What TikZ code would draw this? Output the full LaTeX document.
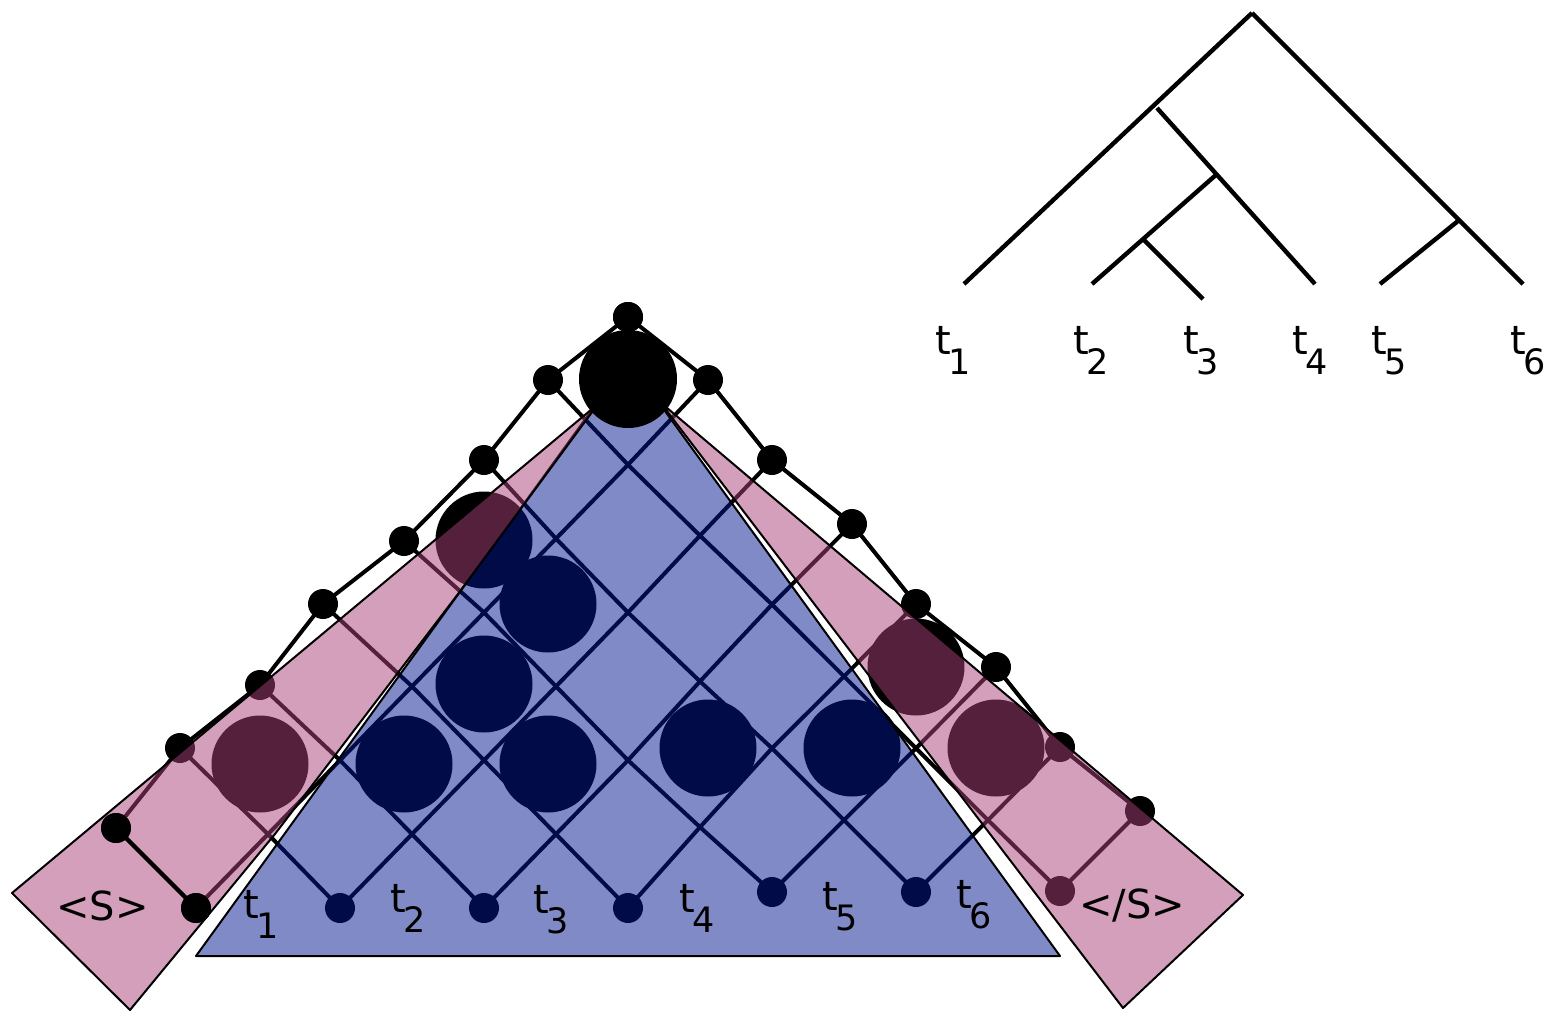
\documentclass[tikz,border=0pt]{standalone}
\usepackage{fontspec}
\setmainfont{DejaVu Sans}
\definecolor{bluefill}{RGB}{0,22,144}
\definecolor{pinkfill}{RGB}{170,64,118}
\tikzset{
  latt/.style={line width=2pt},
  dotc/.style={circle, fill=black, inner sep=0pt, minimum size=15pt},
  bigc/.style={circle, fill=black, inner sep=0pt, minimum size=48.5pt},
  bluetri/.style={fill=bluefill, fill opacity=0.5, draw=black, line width=1pt, line join=round},
  pinkband/.style={fill=pinkfill, fill opacity=0.5, draw=black, line width=1pt, line join=round},
  lbl/.style={inner sep=0pt, anchor=base west, font=\fontsize{20pt}{23pt}\selectfont},
  treeline/.style={line width=2.2pt},
}
\newcommand\tsub[1]{t\kern-1.5pt\raisebox{-10pt}{\fontsize{17.5pt}{20pt}\selectfont #1}}
\begin{document}
\begin{tikzpicture}[x=0.5pt,y=-0.5pt]
\useasboundingbox (0,0) rectangle (1548,1013);
% ---------- lattice node positions ----------
\foreach \i in {-1,...,7}{\foreach \j in {\i,...,7}{
  \pgfmathsetmacro\xx{196+72*(\i+\j)}
  \pgfmathsetmacro\yb{908-16*min(1,max(0,(\xx-628)/144))}
  \pgfmathsetmacro\yy{\yb+(317-\yb)*(\j-\i)/8}
  \coordinate (p\i-\j) at (\xx,\yy);
}}
% left chain
\coordinate (p-1-0) at (116,828);
\coordinate (p-1-1) at (180,748);
\coordinate (p-1-2) at (260,685);
\coordinate (p-1-3) at (323,604);
\coordinate (p-1-4) at (404,541);
\coordinate (p-1-5) at (484,460);
\coordinate (p-1-6) at (548,380);
\coordinate (p-1-7) at (628,317);
% right chain
\coordinate (p0-7) at (708,380);
\coordinate (p1-7) at (772,460);
\coordinate (p2-7) at (852,524);
\coordinate (p3-7) at (916,604);
\coordinate (p4-7) at (996,667);
\coordinate (p5-7) at (1060,747);
\coordinate (p6-7) at (1140,811);
% bottom
\coordinate (p0-0) at (196,908);
\coordinate (p1-1) at (340,908);
\coordinate (p2-2) at (484,908);
\coordinate (p3-3) at (628,908);
\coordinate (p4-4) at (772,892);
\coordinate (p5-5) at (916,892);
\coordinate (p6-6) at (1060,891);
% ---------- lattice lines ----------
\foreach \i in {0,...,6}{\foreach \j in {\i,...,7}{
  \pgfmathtruncatemacro\im{\i-1}
  \draw[latt] (p\i-\j) -- (p\im-\j);
}}
\foreach \i in {0,...,6}{\foreach \j in {\i,...,6}{
  \pgfmathtruncatemacro\jp{\j+1}
  \draw[latt] (p\i-\j) -- (p\i-\jp);
}}
\foreach \j in {0,...,6}{
  \pgfmathtruncatemacro\jp{\j+1}
  \draw[latt] (p-1-\j) -- (p-1-\jp);
}
% ---------- dots ----------
\foreach \k in {0,...,7}{\node[dotc] (dl\k) at (p-1-\k) {};}
\foreach \k in {0,...,6}{\node[dotc] (dr\k) at (p\k-7) {};}
\foreach \k in {0,...,6}{\node[dotc] (db\k) at (p\k-\k) {};}
% ---------- big circles ----------
\node[bigc] (c1) at (484,540) {};
\node[bigc] (c2) at (548,604) {};
\node[bigc] (c3) at (484,684) {};
\node[bigc] (c4) at (404,764) {};
\node[bigc] (c5) at (548,764) {};
\node[bigc] (c6) at (708,748) {};
\node[bigc] (c7) at (852,748) {};
\node[bigc] (c8) at (260,764) {};
\node[bigc] (c9) at (916,667) {};
\node[bigc] (c10) at (996,748) {};
% ---------- translucent overlays ----------
\filldraw[bluetri] (196,956) -- (1060,956) -- (628,360) -- cycle;
\filldraw[pinkband] (12,893) -- (130,1010) -- (275,834) -- (458,594) -- (598,404) -- cycle;
\filldraw[pinkband] (660,402) -- (1243,895) -- (1123,1008) -- cycle;
% ---------- top layer ----------
\draw[latt] (p0-0) -- (p-1-0);
\node[dotc] (tb0) at (p0-0) {};
\node[dotc] (tl0) at (p-1-0) {};
\node[dotc] (top) at (p-1-7) {};
\node[bigc, minimum size=49pt] (c0) at (628,379) {};
% ---------- labels ----------
\node[lbl] (s0) at (56,920) {<S>};
\node[lbl] (lt1) at (243,918) {\tsub{1}};
\node[lbl] (lt2) at (390,912) {\tsub{2}};
\node[lbl] (lt3) at (533,913) {\tsub{3}};
\node[lbl] (lt4) at (679,912) {\tsub{4}};
\node[lbl] (lt5) at (822,910) {\tsub{5}};
\node[lbl] (lt6) at (956,908) {\tsub{6}};
\node[lbl] (s7) at (1079,918) {</S>};
% ---------- tree ----------
\coordinate (root) at (1252,13);
\coordinate (na) at (1157,108);
\coordinate (nb) at (1217,174);
\coordinate (nc) at (1142,238);
\coordinate (nd) at (1458,221);
\coordinate (l1) at (964,284);
\coordinate (l2) at (1092,284);
\coordinate (l3) at (1203,299);
\coordinate (l4) at (1315,284);
\coordinate (l5) at (1380,284);
\coordinate (l6) at (1523,284);
\draw[treeline] (root) -- (l1);
\draw[treeline] (root) -- (l6);
\draw[treeline] (na) -- (l4);
\draw[treeline] (nb) -- (l2);
\draw[treeline] (nc) -- (l3);
\draw[treeline] (nd) -- (l5);
\node[lbl] (tt1) at (935,354) {\tsub{1}};
\node[lbl] (tt2) at (1073,354) {\tsub{2}};
\node[lbl] (tt3) at (1183,354) {\tsub{3}};
\node[lbl] (tt4) at (1292,354) {\tsub{4}};
\node[lbl] (tt5) at (1371,354) {\tsub{5}};
\node[lbl] (tt6) at (1510,354) {\tsub{6}};
\end{tikzpicture}
\end{document}
